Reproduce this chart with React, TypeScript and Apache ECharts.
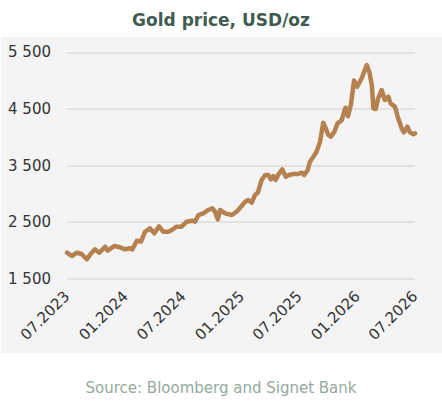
import React, { useEffect, useRef } from "react";
import * as echarts from "echarts";

const titleText = "Gold price, USD/oz";
const sourceText = "Source: Bloomberg and Signet Bank";

const dates = [
  "2023-07-01", "2023-07-16", "2023-08-01", "2023-08-16", "2023-09-01", "2023-09-15", "2023-09-27", "2023-10-11", "2023-10-29", "2023-11-06",
  "2023-11-27", "2023-12-15", "2023-12-31", "2024-01-15", "2024-01-23", "2024-02-06", "2024-02-19", "2024-03-03", "2024-03-18", "2024-04-01",
  "2024-04-16", "2024-04-29", "2024-05-15", "2024-05-26", "2024-06-10", "2024-06-26", "2024-07-12", "2024-07-28", "2024-08-07", "2024-08-18",
  "2024-09-02", "2024-09-18", "2024-10-01", "2024-10-09", "2024-10-18", "2024-10-25", "2024-11-10", "2024-12-01", "2024-12-16", "2024-12-30",
  "2025-01-12", "2025-01-22", "2025-02-02", "2025-02-12", "2025-02-21", "2025-03-05", "2025-03-16", "2025-03-26", "2025-04-03", "2025-04-11",
  "2025-04-18", "2025-04-29", "2025-05-09", "2025-05-20", "2025-05-30", "2025-06-13", "2025-06-28", "2025-07-09", "2025-07-17", "2025-07-28",
  "2025-08-04", "2025-08-15", "2025-08-25", "2025-09-05", "2025-09-15", "2025-09-23", "2025-10-01", "2025-10-09", "2025-10-20", "2025-10-30",
  "2025-11-12", "2025-11-24", "2025-12-02", "2025-12-11", "2025-12-21", "2025-12-31", "2026-01-14", "2026-01-30", "2026-02-07", "2026-02-15",
  "2026-02-20", "2026-02-27", "2026-03-07", "2026-03-18", "2026-03-28", "2026-04-08", "2026-04-15", "2026-04-29", "2026-05-09", "2026-05-20",
  "2026-05-27", "2026-06-07", "2026-06-15", "2026-06-26", "2026-07-01",
];

const goldPrice = [
  1959, 1901, 1959, 1936, 1843, 1949, 2019, 1959, 2065, 1995,
  2078, 2055, 2019, 2037, 2019, 2171, 2154, 2330, 2390, 2302,
  2425, 2330, 2330, 2360, 2419, 2419, 2507, 2525, 2507, 2625,
  2655, 2714, 2744, 2684, 2549, 2714, 2655, 2625, 2684, 2772,
  2860, 2890, 2843, 2979, 3020, 3244, 3332, 3332, 3256, 3314,
  3244, 3362, 3432, 3302, 3332, 3350, 3350, 3373, 3332, 3420,
  3567, 3655, 3744, 3920, 4256, 4157, 4039, 4009, 4097, 4245,
  4300, 4520, 4370, 4569, 5000, 4892, 5041, 5276, 5157, 4922,
  4510, 4498, 4687, 4834, 4657, 4716, 4598, 4539, 4333, 4157,
  4086, 4186, 4086, 4051, 4069,
];

const xTickDates = ["2023-07-01", "2024-01-01", "2024-07-01", "2025-01-01", "2025-07-01", "2026-01-01", "2026-07-01"];
const yTicks = [1500, 2500, 3500, 4500, 5500];

const FONT = "DejaVu Sans";
const DAY = 86400000;

const toUtc = (s: string) => {
  const [y, m, d] = s.split("-").map(Number);
  return Date.UTC(y, m - 1, d);
};
const origin = toUtc(xTickDates[0]);
const toDay = (s: string) => Math.round((toUtc(s) - origin) / DAY);

export default function App() {
  const ref = useRef<HTMLDivElement>(null);

  useEffect(() => {
    document.body.style.margin = "0";
    if (!ref.current) return;
    const chart = echarts.init(ref.current, null, { renderer: "svg" });
    const tickDays = xTickDates.map(toDay);
    chart.setOption({
      animation: false,
      backgroundColor: "#ffffff",
      graphic: [
        {
          type: "rect",
          z: -10,
          silent: true,
          shape: { x: 1, y: 37, width: 441, height: 316 },
          style: { fill: "#f4f4f4" },
        },
      ],
      title: [
        {
          text: titleText,
          left: "center",
          top: 6,
          textStyle: { fontFamily: FONT, fontSize: 17, fontWeight: "bold", color: "#3f5b52" },
        },
        {
          text: sourceText,
          left: "center",
          top: 375,
          textStyle: { fontFamily: FONT, fontSize: 15, fontWeight: "normal", color: "#94aa9e" },
        },
      ],
      grid: { left: 67, right: 27, top: 52.3, bottom: 123.3 },
      xAxis: {
        type: "value",
        min: tickDays[0],
        max: tickDays[tickDays.length - 1],
        axisLine: { show: false },
        axisTick: { show: false },
        splitLine: { show: false },
        axisLabel: {
          customValues: tickDays,
          rotate: 45,
          margin: 15,
          fontFamily: FONT,
          fontSize: 15,
          color: "#333333",
          formatter: (v: number) => {
            const d = new Date(origin + v * DAY);
            const m = String(d.getUTCMonth() + 1).padStart(2, "0");
            return m + "." + d.getUTCFullYear();
          },
        },
      },
      yAxis: {
        type: "value",
        min: yTicks[0],
        max: yTicks[yTicks.length - 1],
        interval: 1000,
        axisLine: { show: false },
        axisTick: { show: false },
        splitLine: { show: true, lineStyle: { color: "#dcdcdc", width: 1.6 } },
        axisLabel: {
          margin: 16,
          fontFamily: FONT,
          fontSize: 15,
          color: "#333333",
          formatter: (v: number) => String(v).replace(/\B(?=(\d{3})+(?!\d))/g, " "),
        },
      },
      series: [
        {
          type: "line",
          data: dates.map((d, i) => [toDay(d), goldPrice[i]]),
          showSymbol: false,
          symbol: "none",
          lineStyle: { color: "#b5814f", width: 4.5, join: "round", cap: "round" },
          itemStyle: { color: "#b5814f" },
        },
      ],
    });
    return () => chart.dispose();
  }, []);

  return <div ref={ref} style={{ width: 442, height: 402 }} />;
}
